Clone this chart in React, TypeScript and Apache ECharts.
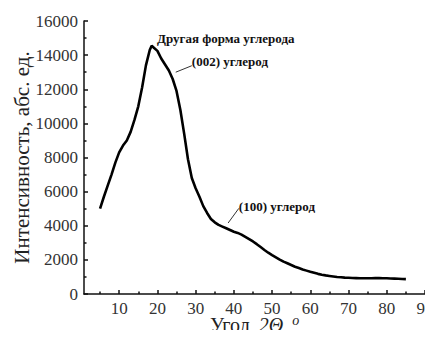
import React, { useEffect, useRef } from "react";
import * as echarts from "echarts";

const angles = [
  5, 6, 7, 8, 9, 10, 11, 12, 13, 14, 15, 16, 17, 18, 18.5, 19, 20, 21, 22, 23, 24, 25, 26, 27, 28, 29, 30,
  31, 32, 33, 34, 35, 36, 37, 38, 39, 40, 41, 42, 43, 44, 45, 46, 47, 48, 49, 50,
  51, 52, 53, 54, 55, 56, 57, 58, 59, 60, 61, 62, 63, 64, 65, 66, 67, 68, 69, 70,
  71, 72, 73, 74, 75, 76, 77, 78, 79, 80, 81, 82, 83, 84, 85,
];
const intensity = [
  5000, 5700, 6350, 7000, 7700, 8300, 8700, 9000, 9500, 10200, 11000, 12100, 13400, 14300, 14550, 14450, 14250, 13800, 13450, 13100, 12600, 11900, 10800, 9400, 7900, 6800, 6200,
  5700, 5150, 4750, 4400, 4200, 4050, 3950, 3850, 3750, 3650, 3580, 3480, 3350, 3220, 3080, 2920, 2750, 2580, 2420, 2280,
  2150, 2020, 1900, 1800, 1700, 1600, 1520, 1440, 1370, 1300, 1240, 1180, 1130, 1090, 1060, 1030, 1000, 980, 960, 950,
  940, 930, 920, 920, 920, 925, 930, 930, 925, 920, 910, 900, 890, 880, 870,
];

const xMajorTicks = [10, 20, 30, 40, 50, 60, 70, 80, 90];
const xMinorTicks = [5, 15, 25, 35, 45, 55, 65, 75, 85];

const annotationTexts = ["Другая форма углерода", "(002) углерод", "(100) углерод"];
const annotationCoords: [number, number][] = [
  [19.9, 15000],
  [29.0, 13600],
  [41.3, 5100],
];
const leaderLines: [number, number, number, number][] = [
  [24.8, 13000, 29.0, 13380],
  [38.5, 4160, 41.3, 5020],
];

const SERIF = "Liberation Serif";

export default function App() {
  const ref = useRef<HTMLDivElement>(null);
  useEffect(() => {
    if (!ref.current) return;
    const chart = echarts.init(ref.current, undefined, { renderer: "svg" });
    const data = angles.map((a, i) => [a, intensity[i]]);
    chart.setOption({
      animation: false,
      backgroundColor: "#ffffff",
      textStyle: { fontFamily: SERIF },
      grid: { left: 84, right: 8, top: 21, bottom: 44, containLabel: false, outerBoundsMode: "none" },
      xAxis: [
        {
          type: "value",
          min: 0.8,
          max: 90,
          name: "Угол {i|2Θ,}{s|o}",
          nameLocation: "middle",
          nameGap: 19,
          nameMoveOverlap: false,
          nameTextStyle: {
            fontFamily: SERIF,
            fontSize: 20,
            color: "#222",
            rich: {
              i: { fontFamily: SERIF, fontSize: 20, fontStyle: "italic", color: "#222", padding: [0, 0, 0, 4] },
              s: { fontFamily: SERIF, fontSize: 14, fontStyle: "italic", color: "#222", padding: [0, 0, 9, 4] },
            },
          },
          axisLine: { show: true, lineStyle: { color: "#111", width: 1.5 } },
          axisTick: { show: true, inside: true, length: 4, customValues: xMajorTicks, lineStyle: { color: "#111", width: 1.5 } },
          axisLabel: { customValues: xMajorTicks, fontFamily: SERIF, fontSize: 17, color: "#333", margin: 6, formatter: (v: number) => String(v) },
          splitLine: { show: false },
        },
        {
          type: "value",
          min: 0.8,
          max: 90,
          position: "bottom",
          axisLine: { show: false },
          axisTick: { show: true, inside: true, length: 2.5, customValues: xMinorTicks, lineStyle: { color: "#111", width: 1.5 } },
          axisLabel: { show: false },
          splitLine: { show: false },
        },
      ],
      yAxis: {
        type: "value",
        min: 0,
        max: 16000,
        interval: 2000,
        name: "Интенсивность, абс. ед.",
        nameLocation: "middle",
        nameGap: 52,
        nameMoveOverlap: false,
        nameTextStyle: { fontFamily: SERIF, fontSize: 21, color: "#222" },
        axisLine: { show: true, lineStyle: { color: "#111", width: 1.5 } },
        axisTick: { show: true, inside: true, length: 4, lineStyle: { color: "#111", width: 1.5 } },
        minorTick: { show: true, splitNumber: 2, length: 2.5, lineStyle: { color: "#111", width: 1.5 } },
        axisLabel: { fontFamily: SERIF, fontSize: 17, color: "#333", margin: 6, formatter: (v: number) => String(v) },
        splitLine: { show: false },
      },
      series: [
        {
          type: "line",
          xAxisIndex: 0,
          data,
          showSymbol: false,
          symbol: "none",
          lineStyle: { color: "#000", width: 2.6 },
          markPoint: {
            symbol: "circle",
            symbolSize: 0,
            silent: true,
            label: {
              show: true,
              position: "right",
              distance: 0,
              fontFamily: SERIF,
              fontSize: 13,
              fontWeight: "bold",
              color: "#111",
              formatter: (p: any) => p.name,
            },
            data: annotationTexts.map((t, i) => ({ name: t, coord: annotationCoords[i] })),
          },
          markLine: {
            silent: true,
            symbol: ["none", "none"],
            label: { show: false },
            lineStyle: { color: "#333", width: 1, type: "solid" },
            data: leaderLines.map((l) => [{ coord: [l[0], l[1]] }, { coord: [l[2], l[3]] }]),
          },
        },
      ],
    });
    return () => chart.dispose();
  }, []);
  return <div ref={ref} style={{ width: 433, height: 338, margin: -8 }} />;
}
